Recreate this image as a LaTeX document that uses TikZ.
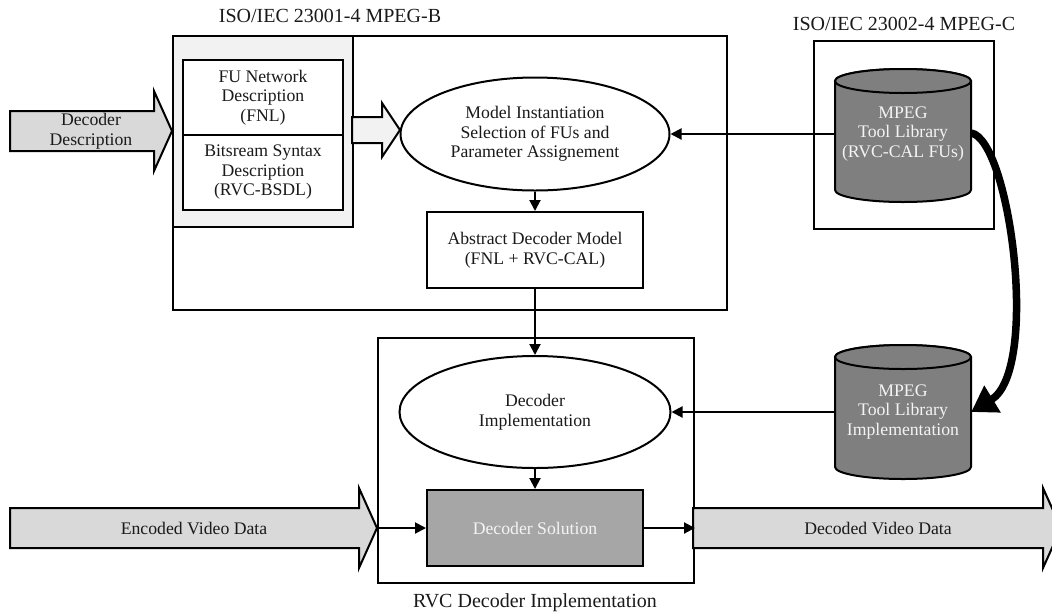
\documentclass[tikz,border=0pt]{standalone}
\usepackage{fontspec}
\setmainfont{Liberation Serif}
\usetikzlibrary{arrows.meta,shapes.geometric}
\definecolor{arrowgray}{HTML}{D9D9D9}
\definecolor{panelgray}{HTML}{F2F2F2}
\definecolor{libgray}{HTML}{7F7F7F}
\definecolor{solgray}{HTML}{A6A6A6}
\definecolor{lighttext}{HTML}{F4F4F4}
\definecolor{ink}{HTML}{1A1A1A}

\begin{document}
\begin{tikzpicture}[x=1pt,y=1pt,
  every node/.style={font=\fontsize{17.7}{19.5}\selectfont, align=center, inner sep=0pt, text=ink},
  frame/.style={draw, line width=2pt, anchor=north west},
  blockbox/.style={draw, line width=2pt, fill=white},
  oval/.style={draw, ellipse, line width=2pt, fill=white},
  caption/.style={font=\fontsize{20}{24}\selectfont},
  conn/.style={line width=2pt, -{Triangle[length=11pt,width=11pt]}},
  fatarrow/.style={draw, line width=2pt, line join=miter},
  cylbody/.style={draw, fill=libgray, line width=2pt},
  libtext/.style={text=lighttext},
]
\useasboundingbox (0,0) rectangle (1052,-614);

% ---------- MPEG-B part ----------
\node[caption] (titleB) at (330,-16) {ISO/IEC 23001-4 MPEG-B};
\node[frame, minimum width=554, minimum height=274] (mpegb) at (172,-35) {};
\node[frame, fill=panelgray, minimum width=180, minimum height=191] (descpanel) at (172,-35) {};
\node[frame, fill=white, minimum width=160, minimum height=75] (fnl) at (182,-59)
  {FU Network\\Description\\(FNL)};
\node[frame, fill=white, minimum width=160, minimum height=75] (bsdl) at (182,-134)
  {Bitsream Syntax\\Description\\(RVC-BSDL)};

% incoming decoder description
\draw[fatarrow, fill=arrowgray] (10,-111) -- (154,-111) -- (154,-91) -- (172,-131)
  -- (154,-171) -- (154,-151) -- (10,-151) -- cycle;
\node (decdesc) at (91,-131) {Decoder\\Description};

% hand-over from descriptions to the instantiation step
\draw[fatarrow, fill=panelgray] (352,-117) -- (382,-117) -- (382,-103) -- (400,-130)
  -- (382,-157) -- (382,-143) -- (352,-143) -- cycle;

\node[oval, minimum width=269, minimum height=113] (model) at (535,-134)
  {Model Instantiation\\Selection of FUs and\\Parameter Assignement};
\node[blockbox, minimum width=216, minimum height=76] (adm) at (535,-250)
  {Abstract Decoder Model\\(FNL + RVC-CAL)};

% ---------- MPEG-C part ----------
\node[caption] (titleC) at (904,-24) {ISO/IEC 23002-4 MPEG-C};
\node[frame, minimum width=180, minimum height=188] (mpegc) at (813,-40) {};

% tool library cylinder
\path[cylbody] (835,-81) -- (835,-190) arc[start angle=180,end angle=360,x radius=68,y radius=12]
  -- (971,-81) arc[start angle=0,end angle=180,x radius=68,y radius=12] -- cycle;
\path[cylbody] (903,-81) ellipse[x radius=68,y radius=12];
\node[libtext, minimum width=136, minimum height=133] (lib1) at (903,-134)
  {MPEG\\Tool Library\\(RVC-CAL FUs)};

% tool library implementation cylinder
\path[cylbody] (835,-357) -- (835,-467) arc[start angle=180,end angle=360,x radius=68,y radius=12]
  -- (971,-357) arc[start angle=0,end angle=180,x radius=68,y radius=12] -- cycle;
\path[cylbody] (903,-357) ellipse[x radius=68,y radius=12];
\node[libtext, minimum width=136, minimum height=134] (lib2) at (903,-412)
  {MPEG\\Tool Library\\Implementation};

% ---------- RVC decoder implementation ----------
\node[frame, minimum width=316, minimum height=245] (rvc) at (377,-337) {};
\node[caption] (titleR) at (535,-603) {RVC Decoder Implementation};
\node[oval, minimum width=271, minimum height=112] (impl) at (535,-412)
  {Decoder\\Implementation};
\node[blockbox, fill=solgray, text=lighttext, minimum width=216, minimum height=76] (sol)
  at (535,-528) {Decoder Solution};

% encoded input stream
\draw[fatarrow, fill=arrowgray] (10,-508) -- (359,-508) -- (359,-488) -- (377,-528)
  -- (359,-568) -- (359,-548) -- (10,-548) -- cycle;
\node (enc) at (194,-528) {Encoded Video Data};
\coordinate (enctip) at (377,-528);

% decoded output stream
\draw[fatarrow, fill=arrowgray] (693,-508) -- (1043,-508) -- (1043,-488) -- (1061,-528)
  -- (1043,-568) -- (1043,-548) -- (693,-548) -- cycle;
\node (dec) at (878,-528) {Decoded Video Data};

% ---------- connectors ----------
\draw[conn] (lib1.west) -- (model.east);
\draw[conn] (model.south) -- (adm.north);
\draw[conn] (adm.south) -- (impl.north);
\draw[conn] (lib2.west) -- (impl.east);
\draw[conn] (impl.south) -- (sol.north);
\draw[conn] (enctip) -- (sol.west);
\draw[conn] (sol.east) -- (sol.east -| rvc.east);
\draw[line width=7.5pt, -{Triangle[length=25pt,width=30pt]}]
  ([yshift=1pt]lib1.east) .. controls (1010,-140) and (1040,-370) .. (lib2.east);

\end{tikzpicture}
\end{document}
